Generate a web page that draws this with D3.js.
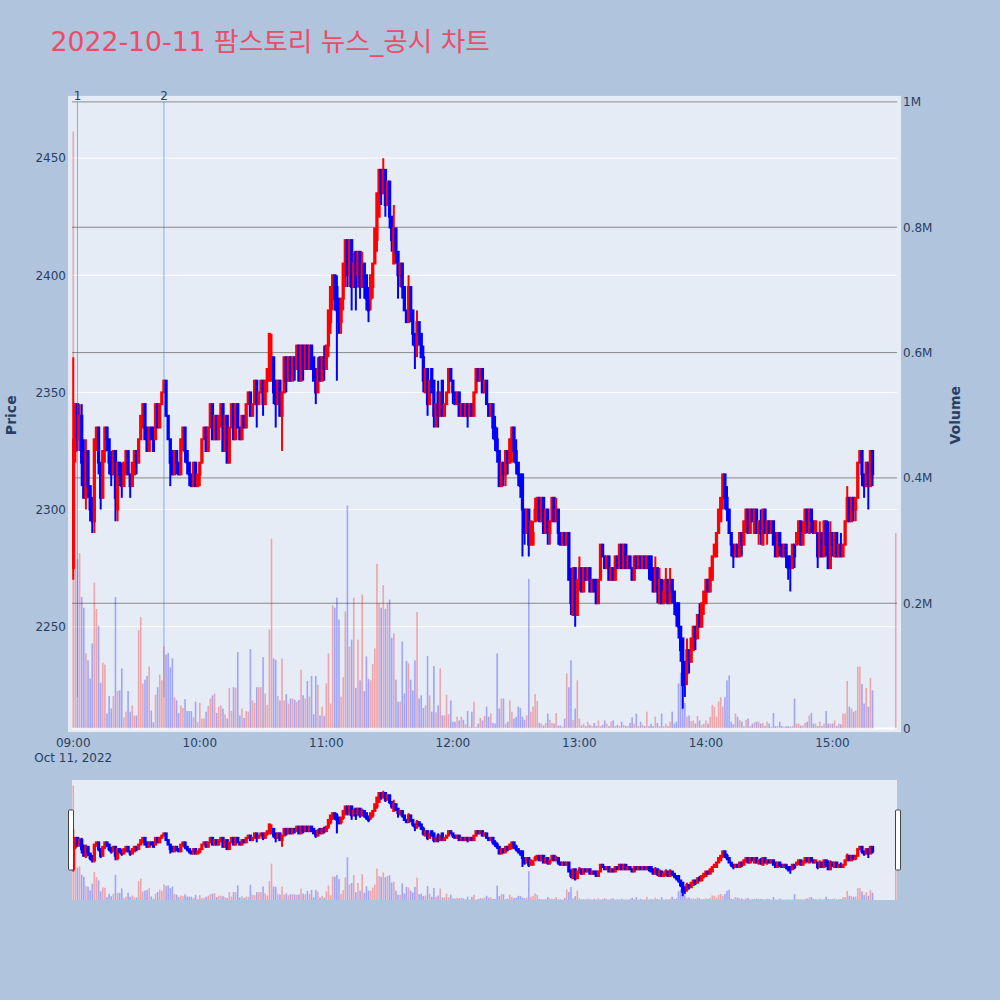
<!DOCTYPE html>
<html><head><meta charset="utf-8">
<script src="https://cdn.jsdelivr.net/npm/d3@7"></script>
<style>body{margin:0;background:#b0c4de}svg{display:block}</style>
</head><body><svg id="c" width="1000" height="1000"></svg>
<script>
// ---- data (1-minute candles 09:00..15:19 plus 15:30 closing) ----
const openP = [
2275,2325,2345,2330,2340,2325,2305,2325,2310,2305,
2295,2330,2335,2320,2305,2325,2335,2330,2320,2315,
2325,2300,2320,2315,2310,2315,2325,2315,2310,2315,
2325,2320,2330,2335,2345,2335,2325,2335,2335,2330,
2345,2335,2345,2350,2355,2340,2330,2325,2315,2325,
2320,2315,2330,2335,2325,2320,2315,2310,2320,2310,
2315,2320,2330,2335,2325,2335,2345,2330,2340,2330,
2340,2345,2325,2340,2320,2335,2345,2330,2345,2335,
2330,2340,2335,2345,2350,2340,2345,2355,2345,2350,
2355,2345,2355,2355,2355,2365,2355,2345,2355,2340,
2350,2365,2355,2365,2355,2365,2360,2370,2355,2370,
2360,2370,2360,2370,2365,2360,2350,2365,2355,2365,
2360,2370,2380,2390,2400,2395,2390,2380,2390,2400,
2415,2400,2415,2395,2410,2400,2410,2395,2405,2400,
2390,2390,2395,2405,2415,2425,2445,2435,2445,2430,
2440,2425,2405,2420,2410,2400,2405,2395,2385,2380,
2395,2385,2375,2370,2380,2375,2365,2350,2360,2345,
2360,2355,2340,2350,2340,2355,2340,2345,2350,2360,
2355,2350,2345,2350,2340,2345,2340,2345,2340,2345,
2340,2350,2360,2355,2360,2350,2355,2345,2340,2345,
2335,2330,2325,2310,2320,2315,2325,2320,2330,2335,
2325,2320,2315,2315,2300,2290,2300,2285,2285,2295,
2300,2305,2295,2305,2290,2300,2290,2295,2305,2295,
2300,2290,2285,2290,2285,2290,2270,2255,2275,2255,
2270,2275,2265,2275,2270,2275,2265,2270,2270,2260,
2270,2285,2280,2275,2280,2270,2275,2270,2280,2275,
2285,2275,2285,2275,2280,2275,2270,2280,2275,2280,
2275,2280,2275,2280,2280,2275,2265,2275,2260,2270,
2260,2265,2270,2260,2270,2265,2260,2260,2250,2245,
2235,2230,2240,2235,2240,2250,2245,2255,2250,2260,
2260,2270,2265,2270,2280,2280,2290,2295,2305,2315,
2305,2300,2290,2285,2280,2285,2280,2290,2285,2295,
2300,2290,2300,2290,2300,2290,2295,2285,2300,2290,
2295,2290,2295,2290,2280,2290,2285,2280,2285,2280,
2280,2275,2285,2285,2290,2295,2285,2290,2300,2290,
2300,2295,2290,2290,2280,2290,2280,2295,2285,2275,
2290,2280,2290,2280,2285,2280,2285,2295,2305,2295,
2305,2300,2305,2320,2325,2315,2310,2320,2310,2325,
2325];
const highP = [
2365,2345,2345,2345,2345,2330,2330,2325,2310,2305,
2330,2335,2335,2320,2325,2335,2335,2330,2325,2325,
2325,2320,2320,2320,2320,2325,2325,2315,2320,2325,
2325,2330,2340,2345,2345,2335,2335,2335,2335,2345,
2345,2345,2350,2355,2355,2340,2330,2325,2325,2325,
2320,2330,2335,2335,2325,2320,2315,2320,2320,2315,
2320,2330,2335,2335,2335,2345,2345,2340,2340,2340,
2345,2345,2340,2340,2335,2345,2345,2345,2345,2335,
2340,2340,2345,2350,2350,2345,2355,2355,2350,2355,
2355,2355,2360,2375,2375,2365,2355,2355,2355,2350,
2365,2365,2365,2365,2365,2365,2370,2370,2370,2370,
2370,2370,2370,2370,2365,2360,2365,2365,2365,2370,
2370,2385,2395,2400,2400,2400,2390,2390,2405,2415,
2415,2415,2415,2410,2410,2410,2410,2410,2405,2400,
2395,2400,2405,2420,2435,2445,2445,2450,2445,2440,
2440,2425,2430,2420,2410,2405,2405,2395,2385,2400,
2395,2385,2375,2385,2380,2375,2370,2360,2360,2355,
2360,2355,2345,2355,2350,2355,2345,2350,2360,2360,
2355,2350,2350,2350,2345,2345,2345,2345,2345,2345,
2350,2360,2360,2360,2360,2355,2355,2345,2345,2345,
2340,2335,2325,2320,2320,2325,2325,2330,2335,2335,
2330,2320,2315,2315,2300,2300,2300,2295,2295,2305,
2305,2305,2305,2305,2300,2300,2295,2305,2305,2305,
2300,2290,2290,2290,2290,2290,2275,2275,2275,2270,
2280,2275,2275,2275,2275,2275,2270,2270,2270,2270,
2285,2285,2280,2280,2280,2275,2275,2280,2280,2285,
2285,2285,2285,2280,2280,2275,2280,2280,2280,2280,
2280,2280,2280,2280,2280,2275,2280,2275,2275,2270,
2270,2275,2270,2275,2270,2265,2260,2260,2250,2245,
2235,2245,2240,2245,2250,2250,2255,2260,2260,2265,
2270,2270,2275,2280,2285,2290,2300,2305,2315,2315,
2310,2300,2290,2285,2285,2285,2290,2290,2295,2300,
2300,2300,2300,2300,2300,2295,2300,2300,2300,2295,
2295,2295,2295,2290,2290,2290,2285,2285,2285,2280,
2280,2285,2285,2290,2295,2295,2295,2300,2300,2300,
2300,2295,2295,2290,2295,2290,2295,2295,2295,2295,
2290,2290,2290,2285,2290,2285,2295,2310,2305,2305,
2305,2305,2320,2325,2325,2315,2320,2320,2325,2325,
2325];
const lowP = [
2270,2320,2325,2325,2310,2305,2300,2305,2295,2290,
2290,2325,2315,2300,2305,2320,2325,2315,2310,2315,
2295,2295,2310,2305,2310,2315,2315,2305,2310,2315,
2315,2320,2330,2335,2330,2325,2325,2330,2325,2330,
2335,2335,2345,2350,2340,2330,2310,2315,2315,2315,
2315,2315,2325,2320,2315,2310,2310,2310,2310,2310,
2310,2320,2330,2325,2325,2335,2330,2330,2330,2330,
2335,2325,2325,2320,2320,2335,2330,2330,2335,2330,
2330,2335,2335,2345,2340,2340,2345,2335,2345,2350,
2340,2345,2350,2355,2355,2345,2335,2345,2340,2325,
2350,2350,2355,2355,2355,2355,2360,2355,2355,2355,
2360,2360,2360,2360,2355,2345,2350,2355,2355,2355,
2360,2365,2375,2385,2385,2355,2375,2375,2385,2395,
2395,2395,2385,2395,2385,2395,2390,2395,2390,2385,
2380,2385,2390,2405,2410,2425,2430,2435,2425,2430,
2420,2410,2405,2405,2390,2395,2390,2385,2380,2380,
2380,2370,2360,2365,2370,2365,2350,2350,2340,2345,
2350,2335,2335,2335,2340,2340,2340,2345,2350,2355,
2345,2345,2345,2340,2340,2340,2340,2335,2340,2340,
2340,2350,2355,2355,2350,2350,2345,2340,2340,2330,
2325,2320,2310,2310,2310,2310,2315,2320,2320,2320,
2315,2310,2305,2280,2285,2290,2280,2285,2285,2295,
2295,2295,2295,2290,2290,2285,2285,2295,2295,2295,
2285,2285,2285,2285,2285,2270,2255,2255,2250,2255,
2265,2265,2265,2270,2270,2265,2265,2265,2260,2260,
2270,2280,2275,2275,2270,2270,2270,2270,2275,2275,
2275,2275,2275,2275,2275,2270,2270,2275,2275,2275,
2275,2275,2275,2270,2270,2265,2265,2260,2260,2260,
2260,2260,2260,2260,2260,2255,2250,2245,2235,2215,
2220,2225,2230,2235,2240,2240,2245,2250,2250,2255,
2260,2265,2265,2270,2280,2280,2290,2295,2300,2300,
2295,2290,2280,2275,2280,2280,2280,2280,2285,2290,
2290,2290,2295,2290,2290,2285,2285,2285,2290,2285,
2290,2290,2285,2280,2280,2280,2280,2280,2275,2270,
2265,2275,2275,2285,2285,2285,2285,2290,2290,2290,
2290,2290,2290,2275,2280,2280,2280,2280,2275,2275,
2280,2280,2280,2280,2280,2280,2285,2295,2295,2295,
2295,2295,2305,2320,2310,2305,2310,2300,2310,2310,
2325];
const closeP = [
2330,2345,2330,2340,2320,2305,2325,2310,2300,2295,
2330,2335,2320,2305,2325,2335,2330,2320,2315,2325,
2305,2320,2315,2310,2320,2325,2315,2310,2320,2325,
2320,2330,2340,2345,2330,2325,2335,2330,2325,2345,
2335,2345,2350,2355,2340,2330,2320,2315,2325,2320,
2315,2330,2335,2325,2320,2315,2310,2320,2310,2315,
2320,2330,2335,2325,2335,2345,2330,2340,2330,2340,
2345,2325,2340,2320,2335,2345,2330,2345,2335,2330,
2340,2335,2345,2350,2340,2345,2355,2345,2350,2355,
2345,2355,2360,2375,2365,2350,2345,2355,2340,2350,
2365,2355,2365,2355,2365,2360,2370,2355,2370,2360,
2370,2360,2370,2360,2355,2350,2360,2355,2365,2360,
2370,2385,2395,2400,2390,2385,2380,2390,2405,2415,
2400,2415,2395,2405,2395,2410,2395,2405,2395,2390,
2385,2400,2405,2420,2435,2445,2435,2445,2430,2440,
2425,2415,2420,2410,2400,2405,2395,2385,2380,2395,
2385,2375,2370,2380,2375,2365,2355,2360,2345,2355,
2350,2340,2345,2340,2350,2340,2345,2350,2360,2355,
2350,2345,2350,2340,2345,2340,2345,2340,2345,2340,
2350,2360,2355,2360,2350,2355,2345,2340,2345,2335,
2330,2325,2310,2320,2315,2325,2320,2330,2335,2325,
2320,2315,2310,2300,2290,2300,2285,2295,2290,2300,
2305,2295,2305,2290,2300,2290,2295,2305,2295,2300,
2290,2285,2290,2285,2290,2270,2260,2275,2255,2270,
2275,2265,2275,2270,2275,2265,2270,2265,2260,2270,
2285,2280,2275,2280,2270,2275,2270,2280,2275,2285,
2275,2285,2275,2280,2275,2270,2280,2275,2280,2275,
2280,2275,2280,2275,2270,2265,2275,2265,2270,2260,
2265,2270,2260,2270,2265,2260,2255,2250,2240,2225,
2230,2240,2235,2245,2250,2245,2255,2250,2260,2265,
2270,2265,2275,2280,2285,2290,2300,2305,2315,2305,
2300,2290,2285,2280,2285,2280,2290,2285,2295,2300,
2290,2300,2295,2300,2290,2295,2290,2300,2290,2295,
2290,2295,2285,2280,2290,2285,2280,2285,2280,2275,
2275,2285,2280,2290,2295,2285,2290,2300,2295,2300,
2295,2290,2295,2280,2290,2280,2295,2285,2275,2290,
2285,2290,2280,2285,2280,2285,2295,2305,2295,2305,
2300,2305,2320,2325,2315,2310,2320,2310,2325,2315,
2325];
// volume in thousands of shares
const volumeK = [
953,500,270,280,210,193,120,109,80,136,
233,191,164,73,105,102,24,52,32,52,
210,60,61,96,18,27,60,27,37,21,
21,157,178,72,78,84,99,29,10,54,
66,86,77,131,118,121,98,112,50,45,
25,37,33,47,28,28,28,18,43,10,
41,16,16,27,36,48,53,56,25,35,
37,32,23,16,65,28,66,65,122,21,
32,17,28,27,127,45,41,66,66,66,
114,56,38,158,303,112,110,52,45,112,
45,55,40,48,48,46,43,46,94,53,
48,76,51,84,23,84,70,21,35,20,
72,120,40,197,193,209,174,51,82,187,
356,131,142,209,65,142,77,214,60,115,
79,77,103,128,263,200,193,229,191,200,
206,145,152,78,43,43,139,56,108,104,
78,61,109,186,48,53,33,37,116,53,
27,100,26,37,96,21,21,54,23,45,
11,11,19,13,19,14,7,28,3,27,
43,3,8,17,13,20,35,19,24,9,
8,120,32,48,48,8,11,45,27,16,
19,35,33,19,14,21,239,27,35,55,
44,9,8,5,9,24,14,9,8,25,
5,5,3,16,88,66,109,14,32,77,
16,5,8,4,11,6,4,9,4,13,
4,6,13,8,4,11,13,4,6,4,
11,6,4,4,9,18,8,24,4,11,
6,4,27,4,8,4,19,9,4,24,
4,8,4,11,27,8,11,72,89,50,
41,19,21,12,13,8,20,13,6,8,
13,8,19,38,35,19,43,50,35,50,
77,85,11,7,24,19,14,11,4,14,
16,4,8,10,11,11,8,9,4,11,
8,3,25,4,4,11,4,3,4,4,
3,4,48,8,8,5,5,9,11,21,
25,8,8,4,11,4,8,28,8,8,
8,13,4,8,7,24,24,76,35,32,
27,29,99,99,71,40,65,35,81,61,
312];
const priceTicks = [2250, 2300, 2350, 2400, 2450];
const volumeTicks = [0, 200000, 400000, 600000, 800000, 1000000];
const volumeTickLabels = ["0", "0.2M", "0.4M", "0.6M", "0.8M", "1M"];
const markerTimes = ["09:02", "09:43"];
const markerLabels = ["1", "2"];
const titleText = "2022-10-11 팜스토리 뉴스_공시 차트";

// ---- build rows ----
const day = new Date(2022, 9, 11, 0, 0);
const t0 = d3.timeMinute.offset(day, 9 * 60);
const minuteOffsets = d3.range(380).concat([390]);
const rows = minuteOffsets.map((m, i) => ({
  t: d3.timeMinute.offset(t0, m),
  o: openP[i], h: highP[i], l: lowP[i], c: closeP[i], v: volumeK[i] * 1000
}));
const parseHM = s => { const [h, m] = s.split(":").map(Number); return d3.timeMinute.offset(day, h * 60 + m); };

// ---- layout ----
const svg = d3.select("#c");
const FONT = "'DejaVu Sans', 'Noto Sans CJK KR', sans-serif";
const TXT = "#2a3f5f";
const RED = "#ff0000", BLUE = "#0000ff";
const L = 72, R = 897, T = 101.9, B = 728.6;
const SL_T = 780, SL_B = 900;

const x = d3.scaleTime()
  .domain([new Date(t0.getTime() - 0.6 * 60000), new Date(t0.getTime() + 390.6 * 60000)])
  .range([L, R]);
const yP = d3.scaleLinear().domain([2206.5, 2474]).range([B, T]);
const yV = d3.scaleLinear().domain([0, 1e6]).range([B, T]);
const yPs = d3.scaleLinear().domain([2206.5, 2474]).range([SL_B, SL_T]);
const yVs = d3.scaleLinear().domain([0, 1e6]).range([SL_B, SL_T]);

svg.append("rect").attr("width", 1000).attr("height", 1000).attr("fill", "#b0c4de");

// title
svg.append("text").attr("x", 50.5).attr("y", 50.5)
  .attr("font-family", FONT).attr("font-size", 26.7).attr("fill", "#ea4d68")
  .text(titleText);

// plot background (slightly padded around the axis area)
svg.append("rect").attr("x", L - 4).attr("y", T - 6).attr("width", R - L + 8).attr("height", B - T + 9.5).attr("fill", "#e5ecf6");

// clip
const defs = svg.append("defs");
defs.append("clipPath").attr("id", "clipMain").append("rect")
  .attr("x", L).attr("y", T).attr("width", R - L).attr("height", B - T);
defs.append("clipPath").attr("id", "clipSl").append("rect")
  .attr("x", L).attr("y", SL_T).attr("width", R - L).attr("height", SL_B - SL_T);

// gridlines: price (white)
const grid = svg.append("g");
grid.selectAll(".gp").data(priceTicks).join("line")
  .attr("x1", L).attr("x2", R).attr("y1", d => yP(d)).attr("y2", d => yP(d))
  .attr("stroke", "#ffffff").attr("stroke-width", 1);
// gridlines: volume (gray)
grid.selectAll(".gv").data(volumeTicks.filter(d => d > 0)).join("line")
  .attr("x1", L).attr("x2", R).attr("y1", d => yV(d)).attr("y2", d => yV(d))
  .attr("stroke", "#8a8a8a").attr("stroke-width", 1);
grid.append("line").attr("x1", L).attr("x2", R).attr("y1", yV(0)).attr("y2", yV(0))
  .attr("stroke", "#ffffff").attr("stroke-width", 2);

function drawCandles(g, yScale) {
  const bw = 1.27;
  const cg = g.selectAll("g.cd").data(rows).join("g");
  cg.append("line")
    .attr("x1", d => x(d.t)).attr("x2", d => x(d.t))
    .attr("y1", d => yScale(d.h)).attr("y2", d => yScale(d.l))
    .attr("stroke", d => d.c >= d.o ? RED : BLUE).attr("stroke-width", 2);
  cg.append("rect")
    .attr("x", d => x(d.t) - bw / 2).attr("width", bw)
    .attr("y", d => yScale(Math.max(d.o, d.c)))
    .attr("height", d => Math.abs(yScale(d.o) - yScale(d.c)))
    .attr("fill", d => d.c >= d.o ? RED : BLUE)
    .attr("stroke", d => d.c >= d.o ? RED : BLUE).attr("stroke-width", 2);
}
function drawVolume(g, yScale) {
  const w = 1.6;
  g.selectAll("rect.vb").data(rows).join("rect")
    .attr("x", d => x(d.t) - w / 2).attr("width", w)
    .attr("y", d => yScale(d.v)).attr("height", d => yScale(0) - yScale(d.v))
    .attr("fill", d => d.c >= d.o ? RED : BLUE).attr("fill-opacity", 0.3);
}

const main = svg.append("g").attr("clip-path", "url(#clipMain)");
drawCandles(main.append("g"), yP);
drawVolume(main.append("g"), yV);

// markers
const mk = svg.append("g");
markerTimes.forEach((s, i) => {
  const xx = x(parseHM(s));
  mk.append("line").attr("x1", xx).attr("x2", xx).attr("y1", T).attr("y2", B - 0.05 * (B - T))
    .attr("stroke", "rgba(70,110,230,0.55)").attr("stroke-width", 1);
  mk.append("text").attr("x", xx).attr("y", T - 2).attr("text-anchor", "middle")
    .attr("font-family", FONT).attr("font-size", 12).attr("fill", TXT).text(markerLabels[i]);
});

// axes labels
const ax = svg.append("g").attr("font-family", FONT).attr("fill", TXT);
ax.selectAll(".pt").data(priceTicks).join("text")
  .attr("x", 66).attr("y", d => yP(d)).attr("dy", "0.36em").attr("text-anchor", "end")
  .attr("font-size", 12).text(d => d);
ax.selectAll(".vt").data(volumeTicks).join("text")
  .attr("x", 903).attr("y", d => yV(d)).attr("dy", "0.36em").attr("text-anchor", "start")
  .attr("font-size", 12).text((d, i) => volumeTickLabels[i]);
const hourTicks = d3.timeHour.range(d3.timeMinute.offset(day, 540), d3.timeMinute.offset(day, 15 * 60 + 1));
ax.selectAll(".xt").data(hourTicks).join("text")
  .attr("x", d => x(d)).attr("y", 746.5).attr("text-anchor", "middle")
  .attr("font-size", 12).text(d3.timeFormat("%H:%M"));
ax.append("text").attr("x", x(hourTicks[0])).attr("y", 761.5).attr("text-anchor", "middle")
  .attr("font-size", 12).text(d3.timeFormat("%b %d, %Y")(t0).replace(/ 0/, " "));
ax.append("text").attr("transform", "translate(15.5," + ((T + B) / 2) + ") rotate(-90)")
  .attr("text-anchor", "middle").attr("font-size", 14).attr("font-weight", "bold").text("Price");
ax.append("text").attr("transform", "translate(959.5," + ((T + B) / 2) + ") rotate(-90)")
  .attr("text-anchor", "middle").attr("font-size", 14).attr("font-weight", "bold").text("Volume");

// range slider
svg.append("rect").attr("x", L).attr("y", SL_T).attr("width", R - L).attr("height", SL_B - SL_T).attr("fill", "#e5ecf6");
const sl = svg.append("g").attr("clip-path", "url(#clipSl)");
drawCandles(sl.append("g"), yPs);
drawVolume(sl.append("g"), yVs);
[L - 1, R + 1].forEach(gx => {
  svg.append("rect").attr("x", gx - 2.5).attr("y", SL_T + 30).attr("width", 5).attr("height", 60)
    .attr("rx", 1).attr("fill", "#ffffff").attr("stroke", "#444").attr("stroke-width", 1);
});
</script></body></html>
